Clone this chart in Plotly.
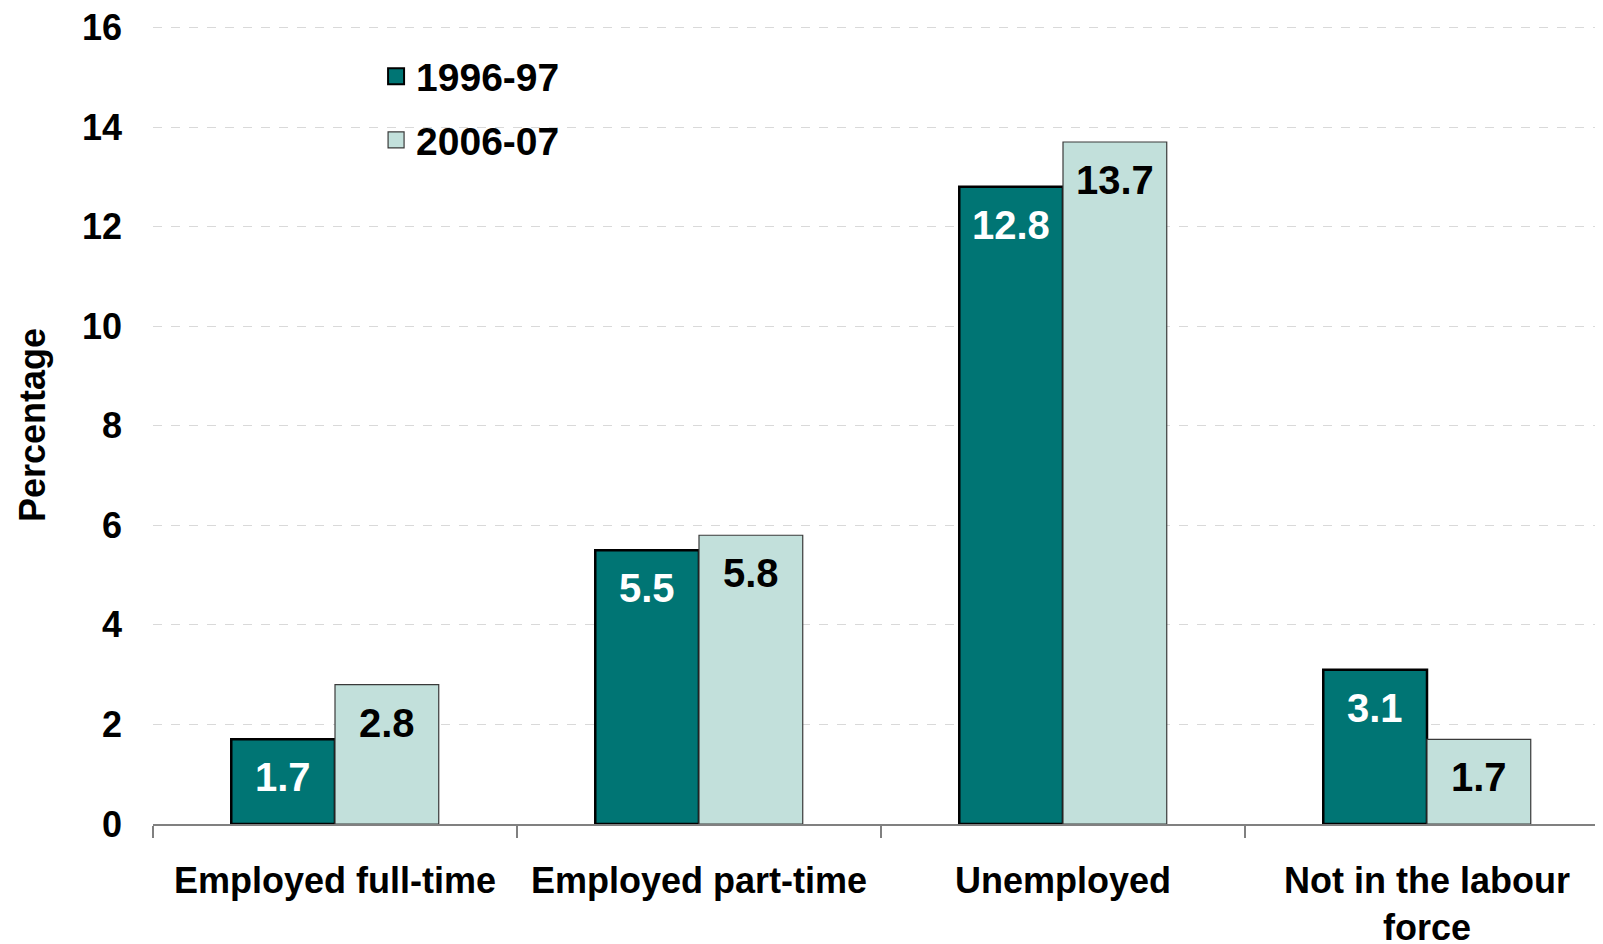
import plotly.graph_objects as go

categories = ["Employed full-time", "Employed part-time", "Unemployed", "Not in the labour<br>force"]
series_names = ["1996-97", "2006-07"]
values_1996 = [1.7, 5.5, 12.8, 3.1]
values_2006 = [2.8, 5.8, 13.7, 1.7]

y_ticks = [0, 2, 4, 6, 8, 10, 12, 14, 16]

dark = "#007574"
light = "#C2E0DB"
FONT = "Arial, Liberation Sans, sans-serif"

fig = go.Figure()

series = [
    (series_names[0], values_1996, dark, "#000000", 2.5, "white"),
    (series_names[1], values_2006, light, "#3a3a3a", 1.2, "black"),
]

for name, vals, col, lcol, lw, tcol in series:
    fig.add_trace(go.Bar(
        x=categories, y=vals, name=name, showlegend=False,
        marker=dict(color=col, line=dict(color=lcol, width=lw)),
    ))

# legend entries
for i, (name, vals, col, lcol, lw, tcol) in enumerate(series):
    fig.add_trace(go.Scatter(
        x=[None], y=[None], mode="markers", name=name, legendgroup=name,
        marker=dict(symbol="square", size=16, color=col, line=dict(color=lcol, width=min(lw, 2))),
    ))

# data labels inside bars, near top
bar_px = 104
for i, (name, vals, col, lcol, lw, tcol) in enumerate(series):
    for c, v in zip(categories, vals):
        fig.add_annotation(
            x=c, y=v, xref="x", yref="y", text=f"{v:.1f}", showarrow=False,
            xshift=(i - 0.5) * bar_px, yshift=-38, yanchor="middle",
            font=dict(family=FONT, size=40, color=tcol, weight="bold"),
        )

fig.update_layout(
    width=1603, height=944,
    margin=dict(l=145, r=0, t=18, b=128),
    paper_bgcolor="white", plot_bgcolor="white",
    barmode="group", bargap=0.43, bargroupgap=0,
    font=dict(family=FONT, color="black", weight="bold"),
    legend=dict(
        x=0.153, y=0.977, xanchor="left", yanchor="top",
        font=dict(family=FONT, size=39, color="black", weight="bold"),
        traceorder="grouped", tracegroupgap=10, bgcolor="rgba(0,0,0,0)",
    ),
    showlegend=True,
)

fig.update_xaxes(
    range=[-0.5, 3.5055],
    showline=True, linecolor="#808080", linewidth=1.5,
    ticks="outside", tickson="boundaries", ticklen=12, tickcolor="#808080", tickwidth=1.5,
    tickfont=dict(family=FONT, size=36, color="black", weight="bold"),
    ticklabelstandoff=24, ticklabeloverflow="allow",
    showgrid=False,
)

fig.update_yaxes(
    range=[0, 16.03], tickvals=y_ticks,
    showgrid=True, gridcolor="#d9d9d9", griddash="dash", gridwidth=1,
    zeroline=False, showline=False, ticks="",
    tickfont=dict(family=FONT, size=36, color="black", weight="bold"),
    ticklabelstandoff=30, ticklabeloverflow="allow",
    title=dict(text="Percentage", font=dict(family=FONT, size=36, color="black", weight="bold"), standoff=25),
)

fig.write_html("out.html")
